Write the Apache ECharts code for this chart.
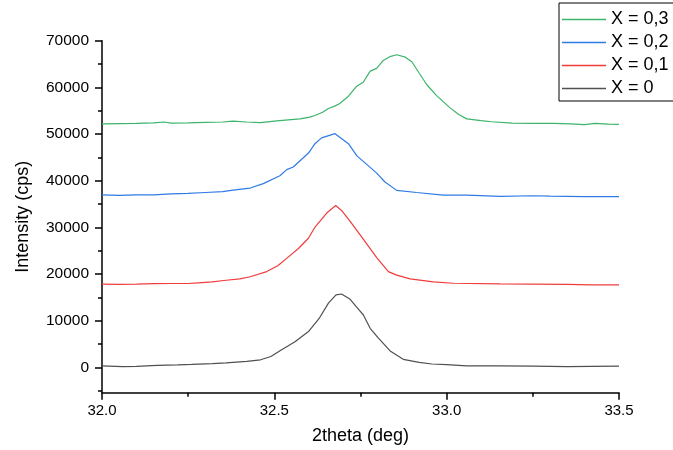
<!DOCTYPE html>
<html>
<head>
<meta charset="utf-8">
<script src="https://cdn.jsdelivr.net/npm/echarts@6/dist/echarts.min.js"></script>
<style>
html,body{margin:0;padding:0;background:#fff;}
#chart{width:673px;height:450px;}
</style>
</head>
<body>
<div id="chart"></div>
<script>
// ---- data ----
const seriesNames = ['X = 0,3', 'X = 0,2', 'X = 0,1', 'X = 0'];
const xTicks = [32.0, 32.5, 33.0, 33.5];
const yMajorTicks = [0, 10000, 20000, 30000, 40000, 50000, 60000, 70000];
const yMinorTicks = [-5000, 5000, 15000, 25000, 35000, 45000, 55000, 65000];

const x03 = [32.00,32.05,32.10,32.15,32.18,32.20,32.25,32.30,32.35,32.38,32.42,32.46,32.50,32.54,32.574,32.60,32.618,32.64,32.657,32.675,32.69,32.715,32.739,32.758,32.778,32.797,32.816,32.835,32.855,32.88,32.899,32.92,32.942,32.97,33.01,33.035,33.058,33.10,33.13,33.19,33.25,33.31,33.36,33.40,33.43,33.47,33.50];
const y03 = [52200,52250,52300,52400,52600,52350,52400,52500,52600,52800,52600,52450,52800,53050,53270,53600,54000,54700,55490,56000,56560,58130,60280,61130,63500,64080,65790,66600,67010,66500,65510,63100,60640,58300,55630,54200,53270,52900,52650,52350,52300,52300,52200,52050,52300,52150,52100];

const x02 = [32.00,32.05,32.10,32.15,32.20,32.25,32.30,32.35,32.38,32.43,32.468,32.516,32.536,32.555,32.599,32.618,32.637,32.676,32.715,32.739,32.797,32.821,32.855,32.913,32.99,33.058,33.155,33.25,33.30,33.40,33.50];
const y02 = [37000,36900,37000,37000,37200,37300,37500,37700,38000,38450,39400,41100,42400,42950,45950,47950,49200,50100,47950,45400,41650,39750,37950,37500,36950,36950,36650,36800,36700,36600,36600];

const x01 = [32.00,32.05,32.10,32.15,32.20,32.25,32.28,32.32,32.36,32.40,32.43,32.478,32.51,32.54,32.57,32.599,32.618,32.652,32.678,32.695,32.72,32.758,32.797,32.831,32.855,32.894,32.961,33.019,33.155,33.25,33.35,33.42,33.50];
const y01 = [17850,17800,17850,17950,18000,18000,18150,18350,18700,19000,19450,20550,21800,23650,25500,27700,30100,33100,34700,33650,31300,27500,23550,20550,19800,19000,18350,18050,17900,17850,17800,17700,17700];

const x00 = [32.00,32.06,32.10,32.16,32.22,32.26,32.32,32.36,32.42,32.46,32.49,32.52,32.56,32.599,32.63,32.657,32.679,32.695,32.72,32.745,32.758,32.778,32.802,32.836,32.874,32.92,32.957,33.00,33.058,33.155,33.25,33.35,33.42,33.50];
const y00 = [350,200,250,450,550,650,850,1000,1300,1650,2350,3750,5500,7700,10500,13800,15550,15750,14600,12400,11300,8400,6300,3550,1750,1100,750,600,350,350,300,200,250,300];

const colors = ['#3cb46a', '#2f7be6', '#f03c3c', '#505050'];
const xs = [x03, x02, x01, x00];
const ys = [y03, y02, y01, y00];

const FONT = 'Liberation Sans, Arial, sans-serif';
const chart = echarts.init(document.getElementById('chart'), null, {renderer: 'canvas'});

const series = seriesNames.map((name, i) => ({
  name: name,
  type: 'line',
  xAxisIndex: 0,
  yAxisIndex: 0,
  showSymbol: false,
  symbol: 'none',
  smooth: false,
  lineStyle: {color: colors[i], width: 1.2},
  itemStyle: {color: colors[i]},
  data: xs[i].map((x, j) => [x, ys[i][j]]),
  z: 3
}));

chart.setOption({
  animation: false,
  backgroundColor: '#fff',
  grid: {left: 102, right: 54, top: 40.8, bottom: 57.3, containLabel: false},
  legend: {
    orient: 'vertical',
    left: 559, top: 3,
    data: seriesNames,
    icon: 'rect',
    itemWidth: 44, itemHeight: 1.3,
    itemGap: 0,
    padding: [5, 40, 1, 3],
    borderColor: '#000', borderWidth: 1,
    backgroundColor: '#fff',
    textStyle: {fontFamily: FONT, fontSize: 18, color: '#000', lineHeight: 23},
    selectedMode: false
  },
  xAxis: {
    type: 'value', min: 32, max: 33.5, interval: 0.5,
    name: '2theta (deg)', nameLocation: 'middle', nameGap: 34,
    nameTextStyle: {fontFamily: FONT, fontSize: 18, color: '#000'},
    axisLine: {onZero: false, lineStyle: {color: '#000', width: 1.5}},
    axisTick: {show: true, inside: false, length: 7, lineStyle: {color: '#000', width: 1.5}},
    minorTick: {show: true, splitNumber: 2, length: 4, lineStyle: {color: '#000', width: 1.5}},
    axisLabel: {fontFamily: FONT, fontSize: 15, color: '#000', margin: 11,
      formatter: v => v.toFixed(1)},
    splitLine: {show: false}
  },
  yAxis: [{
    type: 'value', min: -5400, max: 70000, position: 'left',
    name: 'Intensity (cps)', nameLocation: 'middle', nameGap: 70, nameRotate: 90,
    nameTextStyle: {fontFamily: FONT, fontSize: 18, color: '#000'},
    axisLine: {show: true, onZero: false, lineStyle: {color: '#000', width: 1.5}},
    axisTick: {show: true, length: 4, customValues: yMinorTicks, lineStyle: {color: '#000', width: 1.5}},
    axisLabel: {show: false},
    splitLine: {show: false}
  }, {
    type: 'value', min: -5400, max: 70000, position: 'left', offset: 0,
    axisLine: {show: false, onZero: false},
    axisTick: {show: true, length: 7, customValues: yMajorTicks, lineStyle: {color: '#000', width: 1.5}},
    axisLabel: {show: true, customValues: yMajorTicks, fontFamily: FONT, fontSize: 15.5, color: '#000', margin: 13,
      formatter: v => String(v)},
    splitLine: {show: false}
  }],
  series: series
});
</script>
</body>
</html>
